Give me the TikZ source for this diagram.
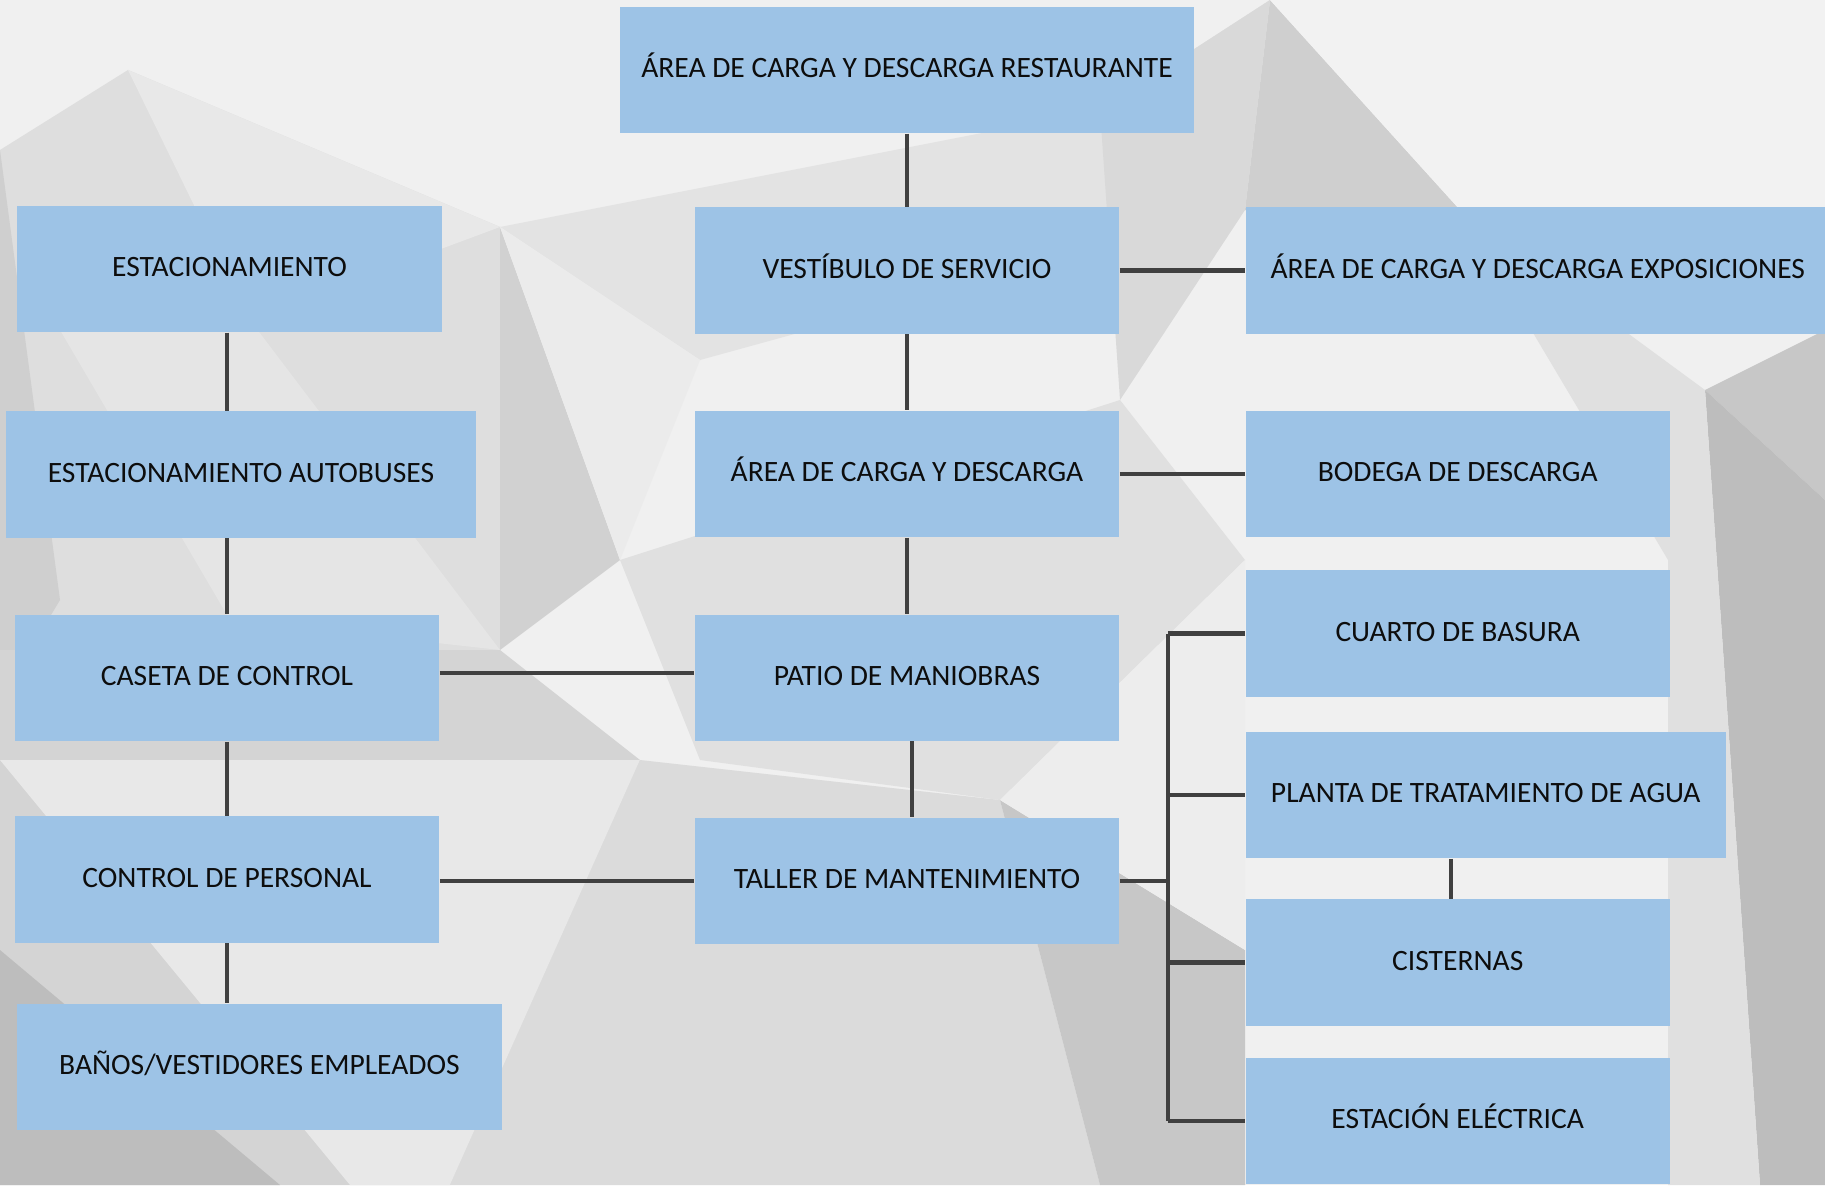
\documentclass[tikz,border=0pt]{standalone}
\usepackage{fontspec}
\setmainfont{Carlito}
\usetikzlibrary{positioning}
\definecolor{cajaazul}{RGB}{157,195,230}
\definecolor{lineagris}{RGB}{64,64,64}
\definecolor{textonegro}{RGB}{13,13,13}

\begin{document}
\begin{tikzpicture}[x=0.01cm,y=-0.01cm,node distance=7.6mm,
    caja/.style={fill=cajaazul,text=textonegro,minimum width=4.24cm,minimum height=1.26cm,inner sep=0pt,text height=1.9mm,text depth=.4mm,font=\fontsize{8.4}{10}\selectfont},
    enlace/.style={draw=lineagris,line width=1.2pt}]
    \useasboundingbox (0,0) rectangle (1825,1185);
    % fondo poligonal
    \fill[black!6] (0,0) rectangle (1825,1185);
    \fill[black!13] (0,150) -- (128,70) -- (500,227) -- (500,650) -- (0,650) -- cycle;
    \fill[black!9] (128,70) -- (500,227) -- (250,320) -- cycle;
    \fill[black!19] (0,150) -- (60,600) -- (0,700) -- cycle;
    \fill[black!10] (60,330) -- (250,320) -- (500,650) -- (230,620) -- cycle;
    \fill[black!18] (500,227) -- (620,560) -- (500,650) -- cycle;
    \fill[black!11] (500,227) -- (1100,110) -- (1270,0) -- (1245,210) -- (700,360) -- cycle;
    \fill[black!8] (500,227) -- (700,360) -- (620,560) -- cycle;
    \fill[black!19] (1270,0) -- (1460,210) -- (1245,210) -- cycle;
    \fill[black!15] (1270,0) -- (1245,210) -- (1120,400) -- (1100,110) -- cycle;
    \fill[black!5] (1270,0) -- (1825,0) -- (1825,330) -- (1460,210) -- cycle;
    \fill[black!22] (1705,390) -- (1825,330) -- (1825,500) -- cycle;
    \fill[black!26] (1705,390) -- (1825,500) -- (1825,1185) -- (1760,1185) -- cycle;
    \fill[black!12] (1460,210) -- (1705,390) -- (1760,1185) -- (1668,1185) -- (1668,560) -- cycle;
    \fill[black!12] (620,560) -- (1120,400) -- (1245,560) -- (1000,800) -- (700,760) -- cycle;
    \fill[black!17] (0,650) -- (500,650) -- (640,760) -- (450,1185) -- (0,1185) -- cycle;
    \fill[black!9] (0,760) -- (640,760) -- (450,1185) -- (350,1185) -- cycle;
    \fill[black!26] (0,950) -- (280,1185) -- (0,1185) -- cycle;
    \fill[black!14] (640,760) -- (1000,800) -- (1100,1185) -- (450,1185) -- cycle;
    \fill[black!22] (1000,800) -- (1245,950) -- (1245,1185) -- (1100,1185) -- cycle;
    \fill[black!7] (1000,800) -- (1245,560) -- (1245,950) -- cycle;

    % columna central
    \node[caja] (vestibulo) at (907,270.5) {VESTÍBULO DE SERVICIO};
    \node[caja,minimum width=5.74cm,above=7.3mm of vestibulo] (restaurante) {ÁREA DE CARGA Y DESCARGA RESTAURANTE};
    \node[caja,below=of vestibulo] (carga) {ÁREA DE CARGA Y DESCARGA};
    \node[caja,below=of carga] (patio) {PATIO DE MANIOBRAS};
    \node[caja,below=of patio] (taller) {TALLER DE MANTENIMIENTO};
    % columna derecha
    \node[caja,minimum width=5.84cm,right=1.25cm of vestibulo] (exposic) {ÁREA DE CARGA Y DESCARGA EXPOSICIONES};
    \node[caja,right=1.25cm of carga] (bodega) {BODEGA DE DESCARGA};
    \node[caja,below=3.2mm of bodega.south west,anchor=north west] (basura) {CUARTO DE BASURA};
    \node[caja,minimum width=4.8cm,below=3.4mm of basura.south west,anchor=north west] (planta) {PLANTA DE TRATAMIENTO DE AGUA};
    \node[caja,below=4mm of planta.south west,anchor=north west] (cisternas) {CISTERNAS};
    \node[caja,below=3.1mm of cisternas.south west,anchor=north west] (electrica) {ESTACIÓN ELÉCTRICA};
    % columna izquierda
    \node[caja,minimum width=4.25cm] (estac) at (229.5,269) {ESTACIONAMIENTO};
    \node[caja,minimum width=4.7cm] (autobus) at (241,474.5) {ESTACIONAMIENTO AUTOBUSES};
    \node[caja] (caseta) at (227,678) {CASETA DE CONTROL};
    \node[caja] (personal) at (227,879.5) {CONTROL DE PERSONAL};
    \node[caja,minimum width=4.85cm] (banos) at (259.5,1067) {BAÑOS/VESTIDORES EMPLEADOS};

    \draw[enlace] (restaurante) -- (vestibulo);
    \draw[enlace] (vestibulo) -- (carga);
    \draw[enlace] (carga) -- (patio);
    \draw[enlace] ([xshift=.05cm]patio.south) -- ([xshift=.05cm]taller.north);
    \draw[enlace] (vestibulo) -- (exposic);
    \draw[enlace] (carga) -- (bodega);
    \draw[enlace] (estac.south -| caseta) -- (autobus.north -| caseta);
    \draw[enlace] (autobus.south -| caseta) -- (caseta);
    \draw[enlace] (caseta) -- (personal);
    \draw[enlace] (personal) -- (banos.north -| personal);
    \draw[enlace] ([yshift=.05cm]caseta.east) -- ([yshift=.05cm]caseta.east -| patio.west);
    \draw[enlace] (taller.west -| personal.east) -- (taller.west);
    \draw[enlace] ([xshift=-.07cm]cisternas.north |- planta.south) -- ([xshift=-.07cm]cisternas.north);
    % derivacion del taller
    \path (taller.east) ++(48,0) coordinate (bus);
    \draw[enlace] (taller.east) -- (bus);
    \draw[enlace] (bus |- basura.west) -- (bus |- electrica.west);
    \draw[enlace] (bus |- basura.west) -- (basura.west);
    \draw[enlace] (bus |- planta.west) -- (planta.west);
    \draw[enlace] (bus |- cisternas.west) -- (cisternas.west);
    \draw[enlace] (bus |- electrica.west) -- (electrica.west);
\end{tikzpicture}
\end{document}
